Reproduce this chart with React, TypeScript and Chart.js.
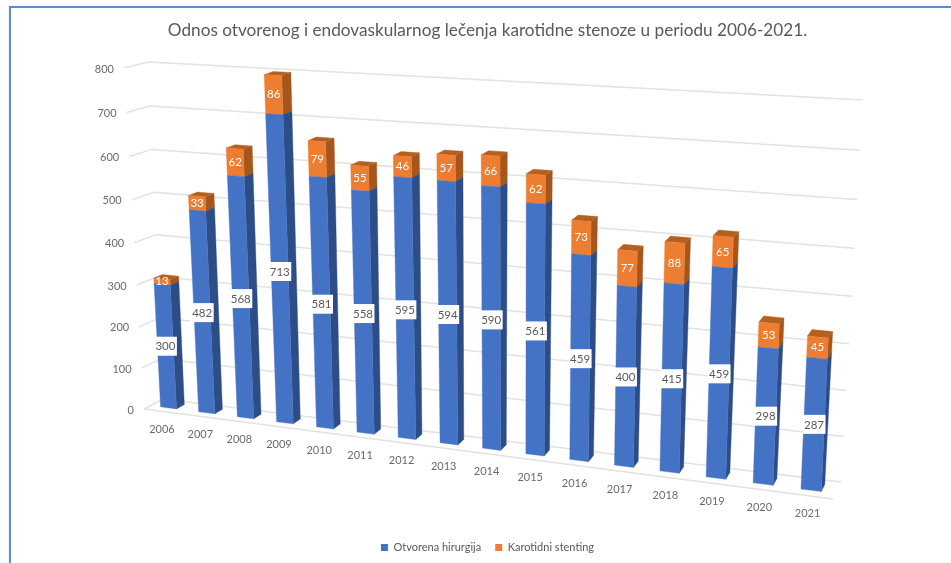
import React, { useEffect, useRef } from "react";
import { Chart, registerables, BarElement } from "chart.js";

Chart.register(...registerables);

const categories = ["2006","2007","2008","2009","2010","2011","2012","2013","2014","2015","2016","2017","2018","2019","2020","2021"];
const otvorena = [300,482,568,713,581,558,595,594,590,561,459,400,415,459,298,287];
const stenting = [13,33,62,86,79,55,46,57,66,62,73,77,88,65,53,45];
const yMax = 800;
const yStep = 100;
const titleText = "Odnos otvorenog i endovaskularnog lečenja karotidne stenoze u periodu 2006-2021.";
const seriesNames = ["Otvorena hirurgija", "Karotidni stenting"];
const BLUE = "#4472c4";
const ORANGE = "#ed7d31";

type P = [number, number];

// Perspective of the 3D plot box: corners of its front and back planes
const frontPlane: P[] = [[144,409],[833,499],[124,68],[850,113]];
const backPlane: P[] = [[163,399],[841,482],[148,62],[863,100]];
const barFront = 0.3;
const barBack = 0.72;

function homography(q: P[]) {
  const [[x0,y0],[x1,y1],[x3,y3],[x2,y2]] = q;
  const dx1 = x1-x2, dx2 = x3-x2, sx = x0-x1+x2-x3;
  const dy1 = y1-y2, dy2 = y3-y2, sy = y0-y1+y2-y3;
  const den = dx1*dy2-dx2*dy1;
  const g = (sx*dy2-dx2*sy)/den, h = (dx1*sy-sx*dy1)/den;
  const a = x1-x0+g*x1, b = x3-x0+h*x3, c = x0;
  const d = y1-y0+g*y1, e = y3-y0+h*y3, f = y0;
  return (u: number, v: number): P => {
    const w = g*u+h*v+1;
    return [(a*u+b*v+c)/w, (d*u+e*v+f)/w];
  };
}
const hFront = homography(frontPlane);
const hBack = homography(backPlane);
function project(u: number, v: number, depth: number): P {
  const a = hFront(u,v), b = hBack(u,v);
  return [a[0]+(b[0]-a[0])*depth, a[1]+(b[1]-a[1])*depth];
}

let area = { left: 0, right: 1, top: 0, bottom: 1 };
const toU = (x: number) => (x-area.left)/(area.right-area.left);
const toV = (y: number) => (area.bottom-y)/(area.bottom-area.top);

const faces: Record<string,{side:string,top:string|null}> = {
  [BLUE]: { side: "#2c4d85", top: null },
  [ORANGE]: { side: "#a5561c", top: "#b5601f" },
};

function poly(ctx: CanvasRenderingContext2D, pts: P[], color: string) {
  ctx.fillStyle = color;
  ctx.strokeStyle = color;
  ctx.lineWidth = 0.4;
  ctx.beginPath();
  pts.forEach((p,i) => i ? ctx.lineTo(p[0],p[1]) : ctx.moveTo(p[0],p[1]));
  ctx.closePath();
  ctx.fill();
  ctx.stroke();
}

// The library's bar element keeps its scale-derived geometry; only its drawing is projected.
(BarElement.prototype as any).draw = function (ctx: CanvasRenderingContext2D) {
  const { x, y, base, width } = this;
  const col = this.options.backgroundColor as string;
  const l = toU(x-width/2), r = toU(x+width/2), vt = toV(y), vb = toV(base);
  const f = faces[col];
  ctx.save();
  poly(ctx, [project(r,vb,barFront),project(r,vb,barBack),project(r,vt,barBack),project(r,vt,barFront)], f.side);
  if (f.top) poly(ctx, [project(l,vt,barFront),project(r,vt,barFront),project(r,vt,barBack),project(l,vt,barBack)], f.top);
  poly(ctx, [project(l,vb,barFront),project(r,vb,barFront),project(r,vt,barFront),project(l,vt,barFront)], col);
  ctx.restore();
};

const perspectiveAxes = {
  id: "perspectiveAxes",
  beforeDraw(chart: any) {
    const ca = chart.chartArea;
    area = { left: ca.left, right: ca.right, top: ca.top, bottom: ca.bottom };
    const ys = chart.scales.y, xs = chart.scales.x;

    const grid = ys._computeGridLineItems(ca);
    grid.forEach((g: any, i: number) => {
      const v = toV(ys.getPixelForTick(i));
      const a = project(0,v,0), b = project(0,v,1), c = project(1,v,1);
      g.tx1 = a[0]; g.ty1 = a[1]; g.tx2 = b[0]; g.ty2 = b[1];
      g.x1 = b[0]; g.y1 = b[1]; g.x2 = c[0]; g.y2 = c[1];
    });
    ys._gridLineItems = grid;

    const yl = ys._computeLabelItems(ca);
    yl.forEach((it: any, i: number) => {
      const p = project(0,toV(ys.getPixelForTick(i)),0);
      it.options.translation = [p[0]-10, p[1]+1];
      it.options.textAlign = "right";
      it.options.textBaseline = "middle";
      it.textOffset = 0;
    });
    ys._labelItems = yl;

    const xl = xs._computeLabelItems(ca);
    xl.forEach((it: any, i: number) => {
      const p = project(toU(xs.getPixelForTick(i)),0,0);
      it.options.translation = [p[0]-1, p[1]+18];
      it.options.textAlign = "center";
      it.options.textBaseline = "middle";
      it.textOffset = 0;
    });
    xs._labelItems = xl;
  },
  beforeDatasetsDraw(chart: any) {
    const { ctx } = chart;
    const a = project(0,0,0), b = project(1,0,0);
    ctx.save();
    ctx.strokeStyle = "#e2e2e2";
    ctx.lineWidth = 1.5;
    ctx.beginPath();
    ctx.moveTo(a[0],a[1]);
    ctx.lineTo(b[0],b[1]);
    ctx.stroke();
    ctx.restore();
  },
  afterDatasetsDraw(chart: any) {
    const { ctx } = chart;
    ctx.save();
    ctx.font = "11.5px Lato";
    ctx.textAlign = "center";
    ctx.textBaseline = "middle";
    chart.data.datasets.forEach((ds: any, di: number) => {
      chart.getDatasetMeta(di).data.forEach((el: any, i: number) => {
        const u = toU(el.x), v = (toV(el.y)+toV(el.base))/2;
        const p = project(u,v,barFront);
        if (di === 0) {
          ctx.fillStyle = "#ffffff";
          ctx.fillRect(p[0]-11.5, p[1]-10, 23, 19);
          ctx.fillStyle = "#595959";
          ctx.fillText(String(ds.data[i]), p[0], p[1]);
        } else {
          ctx.fillStyle = "#ffffff";
          ctx.fillText(String(ds.data[i]), p[0], p[1]);
        }
      });
    });
    ctx.restore();
  },
};

export default function App() {
  const ref = useRef<HTMLCanvasElement>(null);
  useEffect(() => {
    const chart = new Chart(ref.current as HTMLCanvasElement, {
      type: "bar",
      data: {
        labels: categories,
        datasets: [
          { label: seriesNames[0], data: otvorena, backgroundColor: BLUE, borderWidth: 0, barPercentage: 0.42, categoryPercentage: 1 },
          { label: seriesNames[1], data: stenting, backgroundColor: ORANGE, borderWidth: 0, barPercentage: 0.42, categoryPercentage: 1 },
        ],
      },
      plugins: [perspectiveAxes],
      options: {
        animation: false,
        responsive: false,
        layout: { padding: { left: 24, top: 12, bottom: 0, right: 0 } },
        plugins: {
          title: { display: true, text: titleText, color: "#595959", font: { family: "Lato", size: 17.2, weight: "normal" }, padding: { top: 8, bottom: 12 } },
          legend: {
            position: "bottom",
            labels: { color: "#595959", font: { family: "Lato", size: 11 }, usePointStyle: true, pointStyle: "rect", boxWidth: 7, boxHeight: 7, padding: 14 },
          },
          tooltip: { enabled: false },
        },
        scales: {
          x: {
            stacked: true,
            grid: { display: false },
            border: { display: false },
            ticks: { mirror: true, autoSkip: false, maxRotation: 0, color: "#6a6a6a", font: { family: "Lato", size: 11 } },
          },
          y: {
            stacked: true,
            min: 0,
            max: yMax,
            ticks: { mirror: true, stepSize: yStep, color: "#6a6a6a", font: { family: "Lato", size: 11 } },
            border: { display: false },
            grid: { color: "#e2e2e2", tickColor: "#e2e2e2", lineWidth: 1.5, drawTicks: true },
          },
        },
      },
    } as any);
    return () => chart.destroy();
  }, []);
  return (
    <div style={{ position: "absolute", left: 0, top: 0, width: 951, height: 563, background: "#fff", overflow: "hidden" }}>
      <div style={{ position: "absolute", left: 9, top: 6, width: 1000, height: 1000, border: "2px solid #5b8ec9", boxShadow: "0 0 1px #c8c8c8" }} />
      <canvas ref={ref} width={951} height={563} style={{ position: "absolute", left: 0, top: 0, display: "block" }} />
    </div>
  );
}
